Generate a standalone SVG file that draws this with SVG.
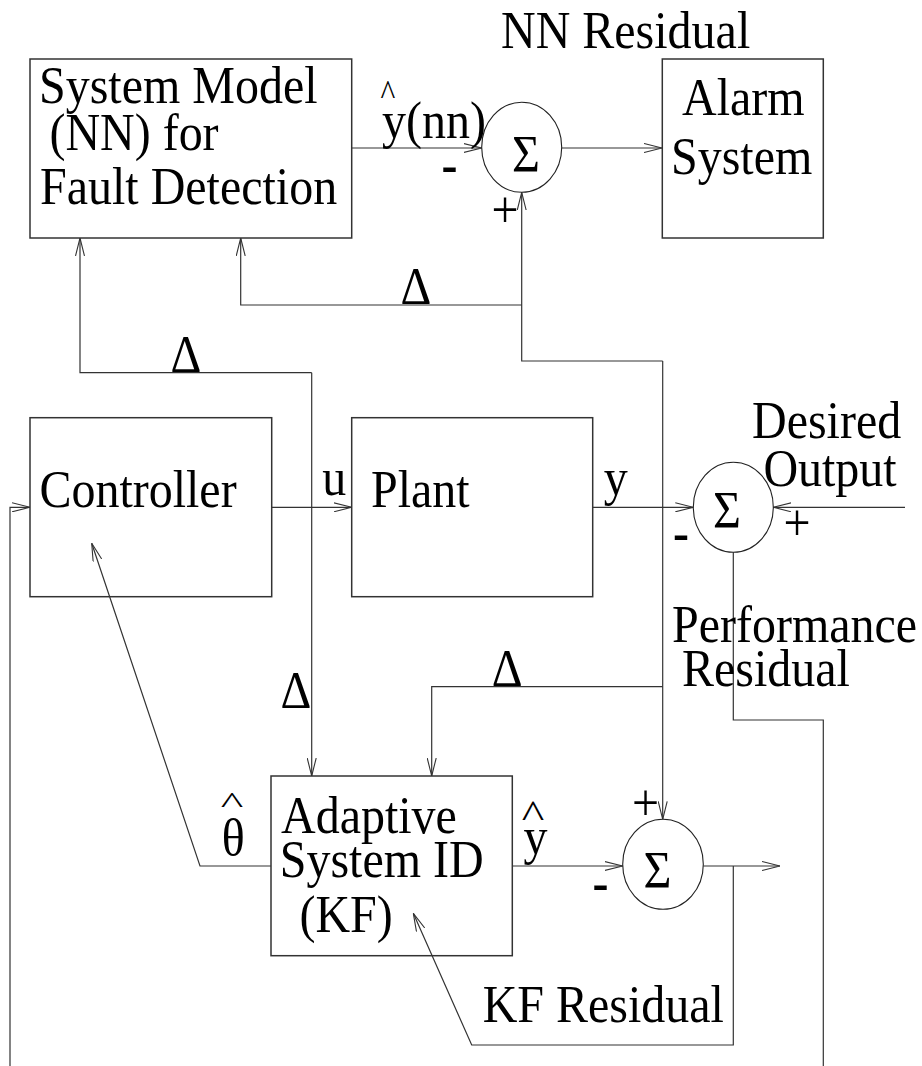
<svg xmlns="http://www.w3.org/2000/svg" width="922" height="1066" viewBox="0 0 922 1066">
<style>
.t{font-family:"Liberation Serif","Times New Roman",serif;font-size:48px;fill:#000}
.m{text-anchor:middle}
.c{font-size:30px}
.b{font-weight:bold}
.box{fill:none;stroke:#333;stroke-width:1.5}
.sum{fill:none;stroke:#222;stroke-width:1.1}
.w{fill:none;stroke:#333;stroke-width:1.2}
</style>
<defs>
<marker id="ah" markerUnits="userSpaceOnUse" viewBox="0 0 18 10" markerWidth="18" markerHeight="10" refX="18" refY="5" orient="auto">
<path d="M0,0.5 L18,5 L0,9.5" fill="none" stroke="#333" stroke-width="1.1"/>
</marker>
</defs>
<rect width="922" height="1066" fill="#fff"/>

<g id="connectors">
<path class="w" d="M351.7,148 H481.7" marker-end="url(#ah)"/>
<path class="w" d="M561.7,148 H662" marker-end="url(#ah)"/>
<path class="w" d="M662.7,361 V819.3" marker-end="url(#ah)"/>
<path class="w" d="M662.7,361 H521.7 V192.3" marker-end="url(#ah)"/>
<path class="w" d="M521.7,305 H240.7 V238" marker-end="url(#ah)"/>
<path class="w" d="M662.7,686.7 H431.7 V776" marker-end="url(#ah)"/>
<path class="w" d="M311.7,372.7 H80 V238" marker-end="url(#ah)"/>
<path class="w" d="M311.7,372.7 V776" marker-end="url(#ah)"/>
<path class="w" d="M271.7,507.3 H351.7" marker-end="url(#ah)"/>
<path class="w" d="M592.7,507.3 H693.3" marker-end="url(#ah)"/>
<path class="w" d="M905,507.3 H773.3" marker-end="url(#ah)"/>
<path class="w" d="M733.3,552.3 V720 H823.3 V1066"/>
<path class="w" d="M10,1066 V507.3 H30" marker-end="url(#ah)"/>
<path class="w" d="M271,866 H200 L91.7,543.3" marker-end="url(#ah)"/>
<path class="w" d="M512.3,866 H622.7" marker-end="url(#ah)"/>
<path class="w" d="M703.3,866 H780" marker-end="url(#ah)"/>
<path class="w" d="M733.3,866 V1045 H471.7 L413.3,913.3" marker-end="url(#ah)"/>
</g>

<g id="system-model">
<rect class="box" x="30" y="59" width="321.7" height="179"/>
<text class="t" transform="translate(39,103) scale(1,1.1)">System Model</text>
<text class="t" transform="translate(49.4,150) scale(1,1.1)">(NN) for</text>
<text class="t" transform="translate(40,204) scale(1,1.1)">Fault Detection</text>
</g>

<g id="alarm-system">
<rect class="box" x="662.3" y="59" width="161" height="179"/>
<text class="t" transform="translate(682,115) scale(1,1.1)">Alarm</text>
<text class="t" transform="translate(671,174) scale(1,1.1)">System</text>
</g>

<g id="sum-nn">
<ellipse class="sum" cx="521.7" cy="147.3" rx="40" ry="45"/>
<text class="t m" transform="translate(526,172) scale(1,1.1)">Σ</text>
</g>

<g id="controller">
<rect class="box" x="30" y="417.7" width="241.7" height="179"/>
<text class="t" transform="translate(39.4,507) scale(1,1.1)">Controller</text>
</g>

<g id="plant">
<rect class="box" x="351.7" y="417.7" width="241" height="179"/>
<text class="t" transform="translate(371,507) scale(1,1.1)">Plant</text>
</g>

<g id="sum-performance">
<ellipse class="sum" cx="733.3" cy="507.3" rx="40" ry="45"/>
<text class="t m" transform="translate(727,528) scale(1,1.1)">Σ</text>
</g>

<g id="adaptive-system-id">
<rect class="box" x="271" y="776" width="241.3" height="179.7"/>
<text class="t" transform="translate(281,833) scale(1,1.1)">Adaptive</text>
<text class="t" transform="translate(279.7,876.7) scale(1,1.1)">System ID</text>
<text class="t" transform="translate(299.4,931.7) scale(1,1.1)">(KF)</text>
</g>

<g id="sum-kf">
<ellipse class="sum" cx="663" cy="864.3" rx="40.3" ry="45"/>
<text class="t m" transform="translate(657.5,888) scale(1,1.1)">Σ</text>
</g>

<g id="labels">
<text class="t" transform="translate(501,48) scale(1,1.1)">NN Residual</text>
<text class="t c m" transform="translate(388,105) scale(1.05,1.2)">^</text>
<text class="t" transform="translate(382,138) scale(1,1.1)">y(nn)</text>
<text class="t b" transform="translate(441.4,182) scale(1,1.1)">-</text>
<text class="t" transform="translate(491.6,227) scale(1,1.1)">+</text>
<text class="t m" transform="translate(416,304) scale(1,1.1)">Δ</text>
<text class="t m" transform="translate(186,372) scale(1,1.1)">Δ</text>
<text class="t" transform="translate(322.3,495) scale(1,1.1)">u</text>
<text class="t" transform="translate(603.7,495) scale(1,1.1)">y</text>
<text class="t" transform="translate(752,438) scale(1,1.1)">Desired</text>
<text class="t" transform="translate(763.4,486) scale(1,1.1)">Output</text>
<text class="t b" transform="translate(673,550) scale(1,1.1)">-</text>
<text class="t" transform="translate(783.6,540) scale(1,1.1)">+</text>
<text class="t" transform="translate(672,641.7) scale(1,1.1)">Performance</text>
<text class="t" transform="translate(682,686) scale(1,1.1)">Residual</text>
<text class="t m" transform="translate(507.3,686) scale(1,1.1)">Δ</text>
<text class="t m" transform="translate(296,708) scale(1,1.1)">Δ</text>
<text class="t c m" transform="translate(232,812.8) scale(1.6,1)">^</text>
<text class="t m" transform="translate(233.3,855) scale(1,1.1)">θ</text>
<text class="t c m" transform="translate(533,828) scale(1.6,1.3)">^</text>
<text class="t" transform="translate(523.5,854) scale(1,1.1)">y</text>
<text class="t" transform="translate(632,820) scale(1,1.1)">+</text>
<text class="t b" transform="translate(592.4,899.5) scale(1,1.1)">-</text>
<text class="t" transform="translate(482.7,1021.7) scale(1,1.1)">KF Residual</text>
</g>
</svg>
